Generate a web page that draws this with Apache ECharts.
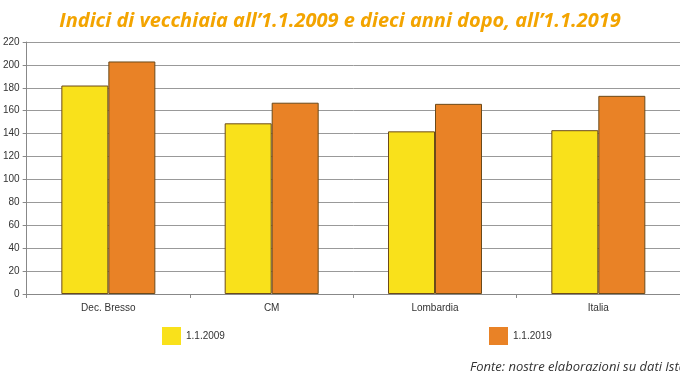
<!DOCTYPE html>
<html><head><meta charset="utf-8">
<script src="https://cdn.jsdelivr.net/npm/echarts@6/dist/echarts.min.js"></script>
<style>html,body{margin:0;padding:0;background:#fff}#c{width:680px;height:382px}</style>
</head><body><div id="c"></div>
<script>
const categories = ["Dec. Bresso", "CM", "Lombardia", "Italia"];
const values2009 = [182, 149, 142, 143];
const values2019 = [203, 167, 166, 173];
const seriesNames = ["1.1.2009", "1.1.2019"];
const yTicks = { min: 0, max: 220, interval: 20 };

const chart = echarts.init(document.getElementById('c'), null, { renderer: 'canvas' });
chart.setOption({
  animation: false,
  backgroundColor: '#fff',
  title: [{
    text: "Indici di vecchiaia all\u20191.1.2009 e dieci anni dopo, all\u20191.1.2019",
    left: 'center', top: 6,
    textStyle: { color: '#F3A400', fontStyle: 'italic', fontWeight: 'bold', fontSize: 20, fontFamily: 'Open Sans' }
  }, {
    text: "Fonte: nostre elaborazioni su dati Istat",
    left: 465, top: 356,
    textStyle: { color: '#333', fontStyle: 'italic', fontWeight: 'normal', fontSize: 13, fontFamily: 'Open Sans' }
  }],
  legend: [{
    data: [{ name: seriesNames[0], icon: 'rect' }], left: 157, top: 322, itemWidth: 19, itemHeight: 18, itemGap: 4,
    itemStyle: { borderWidth: 0 },
    textStyle: { fontSize: 10, color: '#333', fontFamily: 'Liberation Sans' }
  }, {
    data: [{ name: seriesNames[1], icon: 'rect' }], left: 484, top: 322, itemWidth: 19, itemHeight: 18, itemGap: 4,
    itemStyle: { borderWidth: 0 },
    textStyle: { fontSize: 10, color: '#333', fontFamily: 'Liberation Sans' }
  }],
  grid: { left: 25, top: 42, width: 660, height: 252, containLabel: false },
  xAxis: {
    type: 'category', data: categories,
    axisLine: { lineStyle: { color: '#888' } },
    axisTick: { show: true, length: 4, lineStyle: { color: '#888' } },
    axisLabel: { fontSize: 10, color: '#333', margin: 9, fontFamily: 'Liberation Sans' }
  },
  yAxis: {
    type: 'value', min: yTicks.min, max: yTicks.max, interval: yTicks.interval,
    axisLine: { show: true, lineStyle: { color: '#888' } },
    axisTick: { show: true, length: 4, lineStyle: { color: '#888' } },
    axisLabel: { fontSize: 10, color: '#333', margin: 7, fontFamily: 'Liberation Sans' },
    splitLine: { lineStyle: { color: '#999', width: 1 } }
  },
  series: [{
    name: seriesNames[0], type: 'bar', data: values2009, barWidth: 47, barGap: '0%',
    itemStyle: { color: '#F9E11B', borderColor: '#6b4a1a', borderWidth: 1 }
  }, {
    name: seriesNames[1], type: 'bar', data: values2019, barWidth: 47,
    itemStyle: { color: '#E98226', borderColor: '#6b4a1a', borderWidth: 1 }
  }]
});
</script></body></html>
